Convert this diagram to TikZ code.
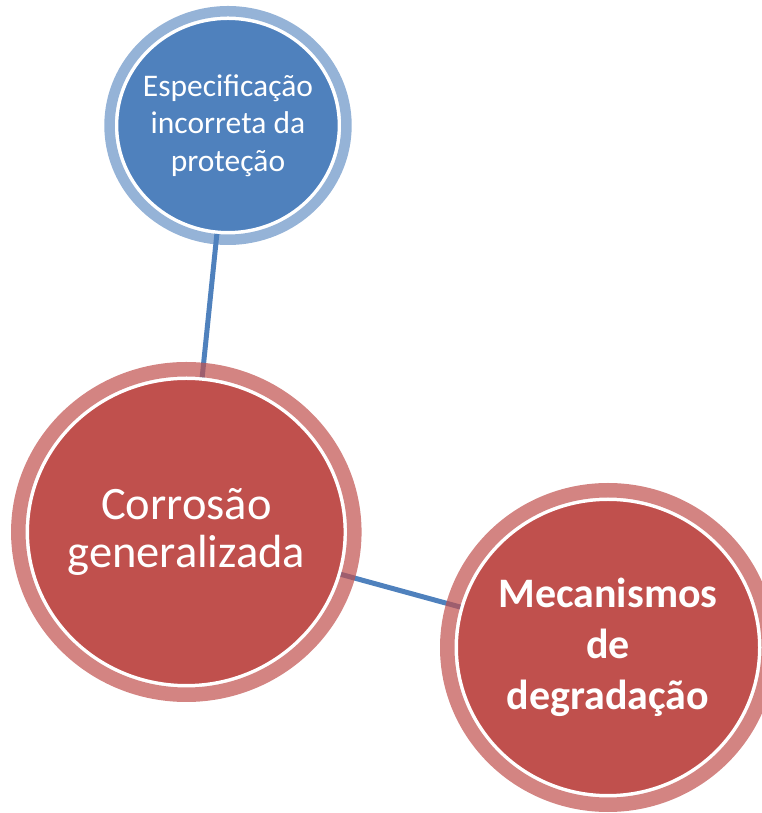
\documentclass[tikz,border=0pt]{standalone}
\usepackage{fontspec}
\setmainfont{Carlito}
\usetikzlibrary{shapes.geometric}
\definecolor{redfill}{HTML}{C0504D}
\definecolor{bluefill}{HTML}{4F81BD}

\begin{document}
\begin{tikzpicture}
      [x=1pt,y=1pt,
        bubble/.style={ellipse,draw=white,line width=3.5pt,inner sep=0pt},
          caption/.style={text=white,align=center,inner sep=0pt},
            link/.style={bluefill,line width=5pt},
              ring/.style={line width=14.5pt,opacity=0.7}]
      \useasboundingbox (0,0) rectangle (762,813);
      \node[bubble,fill=bluefill,minimum width=222.9pt,minimum height=214.5pt,
            label={[caption,font=\fontsize{31.5}{37.5}\selectfont]center:Especificação\\incorreta da\\proteção}]
            (spec) at (228,687.5) {};
      \node[bubble,fill=redfill,minimum width=318pt,minimum height=307.5pt,
            label={[caption,font=\fontsize{46.5}{48.5}\selectfont]center:Corrosão\\generalizada}]
            (corr) at (186.3,281) {};
      \node[bubble,fill=redfill,minimum width=303.5pt,minimum height=296.5pt,
            label={[caption,font=\bfseries\fontsize{42}{51}\selectfont]center:Mecanismos\\de\\degradação}]
            (mec) at (608,165.5) {};
      \draw[link] (spec) -- (corr);
      \draw[link] (corr) -- (mec);
      \draw[ring,bluefill,line width=10.5pt,opacity=0.6] (spec.center) ellipse (118.45 and 114.25);
      \draw[ring,redfill] (corr.center) ellipse (168 and 162.75);
      \draw[ring,redfill] (mec.center) ellipse (160.75 and 157.25);
    \end{tikzpicture}
\end{document}
